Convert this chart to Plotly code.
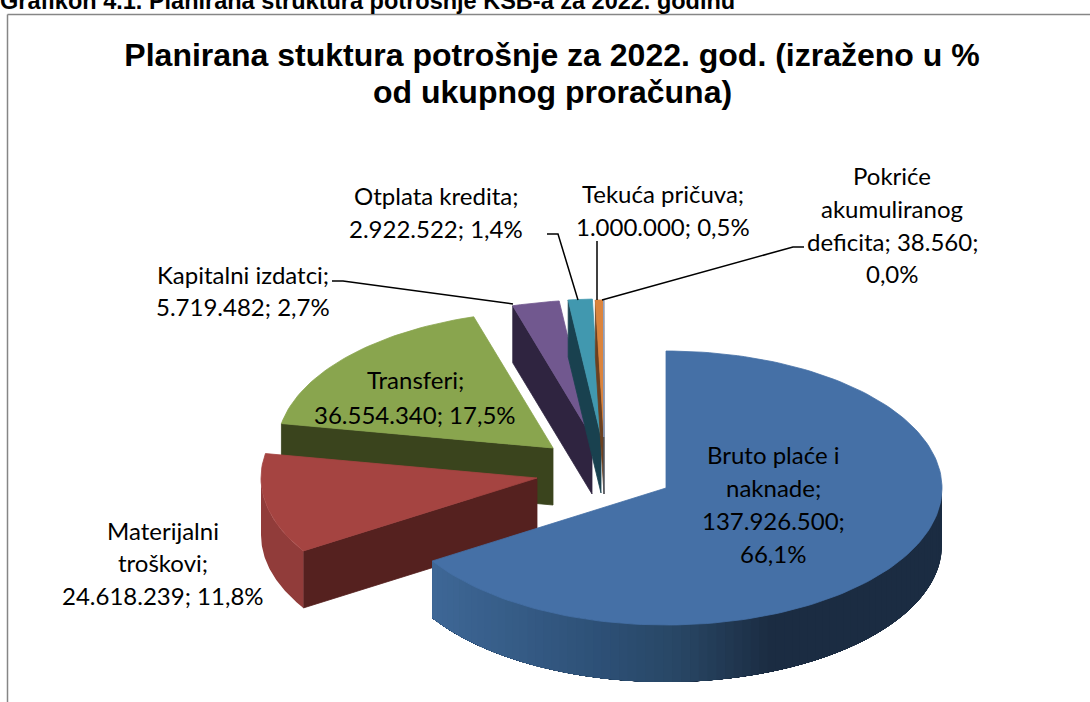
import math
import plotly.graph_objects as go

# ---- data ----
categories = ["Bruto plaće i naknade", "Materijalni troškovi", "Transferi", "Kapitalni izdatci",
              "Otplata kredita", "Tekuća pričuva", "Pokriće akumuliranog deficita"]
values = [137926500, 24618239, 36554340, 5719482, 2922522, 1000000, 38560]
label_lines = [
    ["Bruto plaće i", "naknade;", "137.926.500;", "66,1%"],
    ["Materijalni", "troškovi;", "24.618.239; 11,8%"],
    ["Transferi;", "36.554.340; 17,5%"],
    ["Kapitalni izdatci;", "5.719.482; 2,7%"],
    ["Otplata kredita;", "2.922.522; 1,4%"],
    ["Tekuća pričuva;", "1.000.000; 0,5%"],
    ["Pokriće", "akumuliranog", "deficita; 38.560;", "0,0%"],
]
title_line1 = "Planirana stuktura potrošnje za 2022. god. (izraženo u %"
title_line2 = "od ukupnog proračuna)"
heading = "Grafikon 4.1. Planirana struktura potrošnje KSB-a za 2022. godinu"

# ---- styles / layout ----
top_colors = ["#4570a6", "#a54441", "#89a54e", "#71588f", "#4198af", "#db843d", "#93a9cf"]
wall_colors = ["#1c2d42", "#55211f", "#3a441d", "#2f2440", "#19414f", "#6b4020", "#4a5a70"]
rim_colors = ["#1c2d42", "#913c3a", "#3a441d", "#2f2440", "#19414f", "#6b4020", "#4a5a70"]
# explosion: apex of each slice in chart units
apex = [(666, 488), (537, 478), (553, 448), (592, 437), (601, 436), (604, 437), (604, 437)]
RX, RY, DEPTH = 276, 137, 57
draw_order = [2, 3, 4, 5, 6, 1, 0]
label_x = [773, 163, 415, 243, 436, 663, 892]
label_y = [[454, 487, 520, 553], [530, 562, 595], [379, 414], [274, 306], [195, 228], [193, 226], [175, 208, 241, 273]]
leaders = [
    ([332, 343, 513], [281, 281, 304]),
    ([547, 558, 578], [234, 234, 300]),
    ([597, 597], [241, 300]),
    ([804, 793, 602], [247, 247, 300]),
]
blue_ramp = [(433, (62, 103, 150)), (600, (45, 80, 118)), (680, (40, 70, 100)), (770, (27, 44, 66)), (950, (27, 44, 66))]


def ramp(x):
    for (x0, c0), (x1, c1) in zip(blue_ramp, blue_ramp[1:]):
        if x <= x1:
            t = max(0, (x - x0) / (x1 - x0))
            return "rgb(%d,%d,%d)" % tuple(round(a + (b - a) * t) for a, b in zip(c0, c1))
    return "rgb(27,44,66)"


def rim(i, deg, drop=0):
    a = math.radians(deg)
    return apex[i][0] + RX * math.sin(a), apex[i][1] - RY * math.cos(a) + drop


def poly(pts, color, lw=0.8):
    return go.Scatter(x=[p[0] for p in pts] + [pts[0][0]], y=[p[1] for p in pts] + [pts[0][1]],
                      mode="lines", fill="toself", fillcolor=color, line=dict(color=color, width=lw),
                      hoverinfo="skip", showlegend=False)


total = sum(values)
edges = [0]
for v in values:
    edges.append(edges[-1] + v / total * 360)

fig = go.Figure()
for i in draw_order:
    a0, a1 = edges[i], edges[i + 1]
    # cut face on the start side
    if 180 < a0 < 360:
        fig.add_trace(poly([apex[i], rim(i, a0), rim(i, a0, DEPTH), (apex[i][0], apex[i][1] + DEPTH)], wall_colors[i]))
    # outer rim between 90 and 270 degrees
    lo, hi = max(a0, 90), min(a1, 270)
    if hi > lo:
        n = 80 if i == 0 else 1
        # each band runs to the far end and the next one paints over it, so no seams show
        for k in range(n):
            s0 = lo + (hi - lo) * k / n
            s1 = hi
            m = 60
            arc = [s0 + (s1 - s0) * j / m for j in range(m + 1)]
            pts = [rim(i, d) for d in arc] + [rim(i, d, DEPTH) for d in reversed(arc)]
            c = ramp(rim(i, s0 + (hi - lo) / n / 2)[0]) if i == 0 else rim_colors[i]
            fig.add_trace(poly(pts, c, lw=0))
    # top face
    m = max(4, int((a1 - a0) / 1.5))
    top = [apex[i]] + [rim(i, a0 + (a1 - a0) * j / m) for j in range(m + 1)]
    fig.add_trace(poly(top, top_colors[i]))

for lx, ly in leaders:
    fig.add_trace(go.Scatter(x=lx, y=ly, mode="lines", line=dict(color="black", width=1.5),
                             hoverinfo="skip", showlegend=False))

annotations = []
for lines, x, ys in zip(label_lines, label_x, label_y):
    for line, y in zip(lines, ys):
        annotations.append(dict(x=x, y=y, xref="x", yref="y", text=line, showarrow=False,
                                xanchor="center", yanchor="middle",
                                font=dict(family="Lato", size=24, color="black")))
annotations.append(dict(x=0, y=1, xref="x", yref="y", xshift=-2, text=heading, showarrow=False,
                        xanchor="left", yanchor="middle",
                        font=dict(family="Liberation Sans", size=23.5, color="black", weight="bold")))
annotations.append(dict(x=552, y=92, xref="x", yref="y", text=title_line2, showarrow=False,
                        xanchor="center", yanchor="middle",
                        font=dict(family="Liberation Sans", size=32, color="black", weight="bold")))

fig.update_layout(
    width=1090, height=702, margin=dict(l=0, r=0, t=0, b=0),
    paper_bgcolor="white", plot_bgcolor="white", showlegend=False,
    title=dict(text=title_line1, x=552 / 1090, xanchor="center", y=1 - 55 / 702, yanchor="middle",
               font=dict(family="Liberation Sans", size=32, color="black", weight="bold")),
    xaxis=dict(range=[0, 1090], visible=False, fixedrange=True),
    yaxis=dict(range=[702, 0], visible=False, fixedrange=True),
    annotations=annotations,
    shapes=[dict(type="line", x0=7.5, x1=7.5, y0=14.5, y1=702, line=dict(color="#868686", width=1.5)),
            dict(type="line", x0=7.5, x1=1090, y0=14.5, y1=14.5, line=dict(color="#868686", width=1.5))],
)
fig.write_html("out.html", config=dict(displayModeBar=False),
               post_script="document.body.style.margin='0';document.body.style.overflow='hidden';")
